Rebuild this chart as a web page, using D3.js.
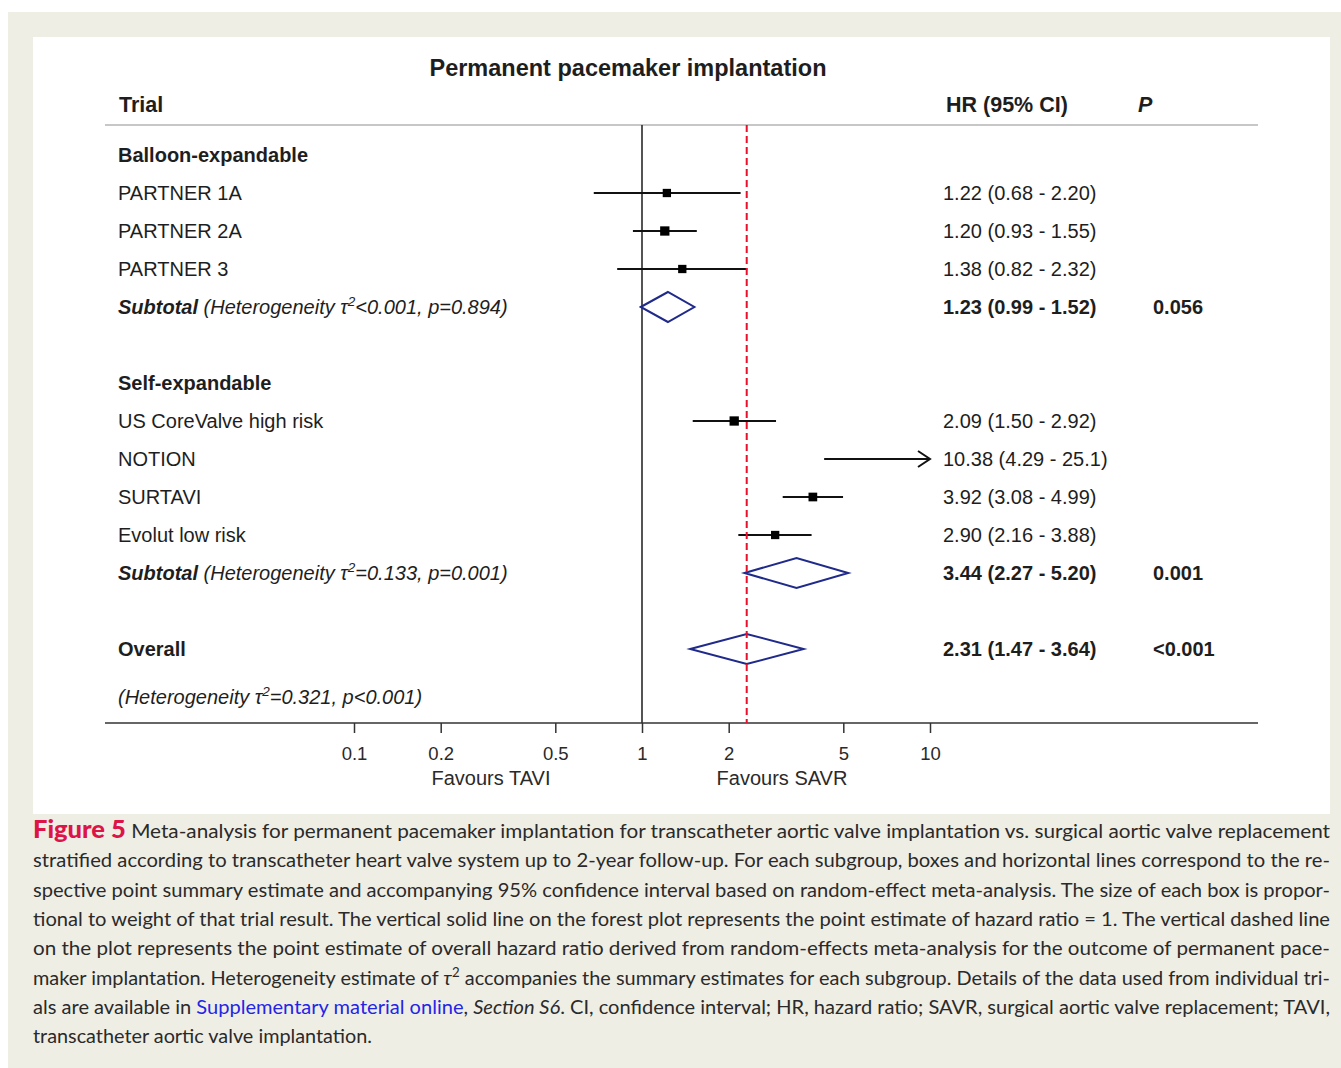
<!DOCTYPE html>
<html>
<head>
<meta charset="utf-8">
<script src="https://cdn.jsdelivr.net/npm/d3@7"></script>
<style>
  body { margin: 0; background: #ffffff; }
  svg text { font-family: "Liberation Sans", Arial, sans-serif; }
  svg text.cap { font-family: Lato, "Open Sans", sans-serif; }
</style>
</head>
<body>
<div id="chart"></div>
<script>

/* --- データ --- */
const groups = ["Balloon-expandable", "Self-expandable"];

const trials     = ["PARTNER 1A", "PARTNER 2A", "PARTNER 3", "US CoreValve high risk", "NOTION", "SURTAVI", "Evolut low risk"];
const trialGroup = ["Balloon-expandable", "Balloon-expandable", "Balloon-expandable", "Self-expandable", "Self-expandable", "Self-expandable", "Self-expandable"];
const trialHR    = [1.22, 1.20, 1.38, 2.09, 10.38, 3.92, 2.90];
const trialLo    = [0.68, 0.93, 0.82, 1.50, 4.29, 3.08, 2.16];
const trialHi    = [2.20, 1.55, 2.32, 2.92, 25.1, 4.99, 3.88];
const trialText  = ["1.22 (0.68 - 2.20)", "1.20 (0.93 - 1.55)", "1.38 (0.82 - 2.32)", "2.09 (1.50 - 2.92)", "10.38 (4.29 - 25.1)", "3.92 (3.08 - 4.99)", "2.90 (2.16 - 3.88)"];
// 重み（箱の大きさから読み取った目安）
const trialWeight = [8.3, 9.3, 8.3, 9.3, 9.0, 8.7, 8.3];

const subHR    = [1.23, 3.44];
const subLo    = [0.99, 2.27];
const subHi    = [1.52, 5.20];
const subText  = ["1.23 (0.99 - 1.52)", "3.44 (2.27 - 5.20)"];
const subP     = ["0.056", "0.001"];
const subTau   = ["<0.001", "=0.133"];
const subPhet  = ["=0.894", "=0.001"];

const overallHR = 2.31, overallLo = 1.47, overallHi = 3.64;
const overallText = "2.31 (1.47 - 3.64)";
const overallP = "<0.001";
const overallTau = "=0.321", overallPhet = "<0.001";

const tickValues = [0.1, 0.2, 0.5, 1, 2, 5, 10];

const captionLines = [
  [["Figure 5", "fig"], [" Meta-analysis for permanent pacemaker implantation for transcatheter aortic valve implantation vs. surgical aortic valve replacement", ""]],
  [["stratified according to transcatheter heart valve system up to 2-year follow-up. For each subgroup, boxes and horizontal lines correspond to the re-", ""]],
  [["spective point summary estimate and accompanying 95% confidence interval based on random-effect meta-analysis. The size of each box is propor-", ""]],
  [["tional to weight of that trial result. The vertical solid line on the forest plot represents the point estimate of hazard ratio = 1. The vertical dashed line", ""]],
  [["on the plot represents the point estimate of overall hazard ratio derived from random-effects meta-analysis for the outcome of permanent pace-", ""]],
  [["maker implantation. Heterogeneity estimate of ", ""], ["τ", "it"], ["2", "sup"], [" accompanies the summary estimates for each subgroup. Details of the data used from individual tri-", ""]],
  [["als are available in ", ""], ["Supplementary material online", "link"], [", ", ""], ["Section S6", "it"], [". CI, confidence interval; HR, hazard ratio; SAVR, surgical aortic valve replacement; TAVI,", ""]],
  [["transcatheter aortic valve implantation.", ""]]
];


/* --- ビューポート --- */
const W = 1341, H = 1068;
const svg = d3.select("#chart").append("svg")
  .attr("width", W).attr("height", H)
  .attr("viewBox", "0 0 " + W + " " + H);

svg.append("rect").attr("x", 8).attr("y", 12).attr("width", W - 8).attr("height", H - 12).attr("fill", "#efeee5");
svg.append("rect").attr("x", 33).attr("y", 37).attr("width", 1297).attr("height", 777).attr("fill", "#ffffff");


/* --- 行の組み立て --- */
let rows = [];
let r = 0;
groups.forEach(function(g, gi) {
  rows.push({type: "group", label: g, row: r++});
  trials.forEach(function(t, i) {
    if (trialGroup[i] === g) {
      rows.push({type: "trial", label: t, hr: trialHR[i], lo: trialLo[i], hi: trialHi[i], text: trialText[i], w: trialWeight[i], row: r++});
    }
  });
  rows.push({type: "sub", hr: subHR[gi], lo: subLo[gi], hi: subHi[gi], text: subText[gi], p: subP[gi], tau: subTau[gi], phet: subPhet[gi], row: r++});
  r++;
});
rows.push({type: "overall", label: "Overall", hr: overallHR, lo: overallLo, hi: overallHi, text: overallText, p: overallP, row: r++});
rows.push({type: "note", tau: overallTau, phet: overallPhet, row: r + 0.26});


/* --- スケール --- */
const x = d3.scaleLog().domain([0.1, 10]).range([354, 930]);
const y = d3.scaleLinear().domain([0, 1]).range([155, 193]);
const boxScale = d3.scaleLinear().domain([0, 10]).range([0, 10]);

const plotTop = 125, plotBottom = 723, plotLeft = 105, plotRight = 1258;
const labelX = 118, hrX = 943, pX = 1153;
const ink = "#1e1e1e";
const fs = 20;


/* --- タイトルと見出し --- */
svg.append("text").attr("x", 628).attr("y", 76).attr("text-anchor", "middle")
  .attr("font-size", 23.5).attr("font-weight", "bold").attr("fill", ink)
  .text("Permanent pacemaker implantation");

svg.append("text").attr("x", 119).attr("y", 112).attr("font-size", 21.5).attr("font-weight", "bold").attr("fill", ink).text("Trial");
svg.append("text").attr("x", 946).attr("y", 112).attr("font-size", 21.5).attr("font-weight", "bold").attr("fill", ink).text("HR (95% CI)");
svg.append("text").attr("x", 1138).attr("y", 112).attr("font-size", 21.5).attr("font-weight", "bold").attr("font-style", "italic").attr("fill", ink).text("P");

svg.append("line").attr("x1", plotLeft).attr("x2", plotRight).attr("y1", plotTop).attr("y2", plotTop)
  .attr("stroke", "#b5b5b5").attr("stroke-width", 1.5);


/* --- 基準線 --- */
svg.append("line").attr("x1", x(1)).attr("x2", x(1)).attr("y1", plotTop).attr("y2", plotBottom)
  .attr("stroke", "#2a2a2a").attr("stroke-width", 1.6);


/* --- 軸 --- */
const axisG = svg.append("g").attr("transform", "translate(0," + plotBottom + ")");
axisG.call(d3.axisBottom(x).tickValues(tickValues).tickFormat(d3.format("~g")).tickSize(10).tickPadding(14).tickSizeOuter(0));
axisG.select(".domain").remove();
axisG.selectAll(".tick line").attr("stroke", "#333").attr("stroke-width", 1.5);
axisG.selectAll(".tick text").attr("font-size", 18.5).attr("fill", "#2a2a2a")
  .style("font-family", "'Liberation Sans', Arial, sans-serif");

svg.append("line").attr("x1", plotLeft).attr("x2", plotRight).attr("y1", plotBottom).attr("y2", plotBottom)
  .attr("stroke", "#333").attr("stroke-width", 1.5);

svg.append("text").attr("x", 491).attr("y", 785).attr("text-anchor", "middle").attr("font-size", 20).attr("fill", "#2a2a2a").text("Favours TAVI");
svg.append("text").attr("x", 782).attr("y", 785).attr("text-anchor", "middle").attr("font-size", 20).attr("fill", "#2a2a2a").text("Favours SAVR");


/* --- 行ラベル --- */
const labelG = svg.append("g");

rows.forEach(function(d) {
  const yy = y(d.row);
  if (d.type === "group" || d.type === "overall") {
    labelG.append("text").attr("x", labelX).attr("y", yy).attr("dy", "0.35em")
      .attr("font-size", fs).attr("font-weight", "bold").attr("fill", ink).text(d.label);
  } else if (d.type === "trial") {
    labelG.append("text").attr("x", labelX).attr("y", yy).attr("dy", "0.35em")
      .attr("font-size", fs).attr("fill", ink).text(d.label);
  } else if (d.type === "sub" || d.type === "note") {
    const t = labelG.append("text").attr("x", labelX).attr("y", yy).attr("dy", "0.35em")
      .attr("font-size", fs).attr("font-style", "italic").attr("fill", ink);
    if (d.type === "sub") {
      t.append("tspan").attr("font-weight", "bold").text("Subtotal");
      t.append("tspan").text(" (Heterogeneity τ");
    } else {
      t.append("tspan").text("(Heterogeneity τ");
    }
    t.append("tspan").attr("font-size", 13.5).attr("dy", -8).text("2");
    t.append("tspan").attr("dy", 8).text(d.tau + ", p" + d.phet + ")");
  }

  if (d.text) {
    labelG.append("text").attr("x", hrX).attr("y", yy).attr("dy", "0.35em")
      .attr("font-size", fs).attr("fill", ink)
      .attr("font-weight", d.type === "trial" ? "normal" : "bold")
      .text(d.text);
  }
  if (d.p) {
    labelG.append("text").attr("x", pX).attr("y", yy).attr("dy", "0.35em")
      .attr("font-size", fs).attr("font-weight", "bold").attr("fill", ink).text(d.p);
  }
});


/* --- 信頼区間と箱 --- */
const xMin = x.domain()[0], xMax = x.domain()[1];
const trialRows = rows.filter(function(d) { return d.type === "trial"; });
const markG = svg.append("g");

markG.selectAll(".ci").data(trialRows).enter().append("line")
  .attr("class", "ci")
  .attr("x1", function(d) { return x(Math.max(d.lo, xMin)); })
  .attr("x2", function(d) { return x(Math.min(d.hi, xMax)); })
  .attr("y1", function(d) { return y(d.row); })
  .attr("y2", function(d) { return y(d.row); })
  .attr("stroke", "#111").attr("stroke-width", 2);

markG.selectAll(".arrow").data(trialRows.filter(function(d) { return d.hi > xMax; })).enter().append("path")
  .attr("class", "arrow")
  .attr("d", function(d) {
    const ax = x(xMax), ay = y(d.row);
    return "M" + (ax - 12) + "," + (ay - 8) + "L" + ax + "," + ay + "L" + (ax - 12) + "," + (ay + 8);
  })
  .attr("fill", "none").attr("stroke", "#111").attr("stroke-width", 2);

markG.selectAll(".box").data(trialRows.filter(function(d) { return d.hr >= xMin && d.hr <= xMax; })).enter().append("rect")
  .attr("class", "box")
  .attr("x", function(d) { return x(d.hr) - boxScale(d.w) / 2; })
  .attr("y", function(d) { return y(d.row) - boxScale(d.w) / 2; })
  .attr("width", function(d) { return boxScale(d.w); })
  .attr("height", function(d) { return boxScale(d.w); })
  .attr("fill", "#000");


/* --- ダイヤモンド --- */
const diamondRows = rows.filter(function(d) { return d.type === "sub" || d.type === "overall"; });
markG.selectAll(".diamond").data(diamondRows).enter().append("path")
  .attr("class", "diamond")
  .attr("d", function(d) {
    const yy = y(d.row), h = 15;
    return "M" + x(d.lo) + "," + yy + "L" + x(d.hr) + "," + (yy - h) + "L" + x(d.hi) + "," + yy + "L" + x(d.hr) + "," + (yy + h) + "Z";
  })
  .attr("fill", "#fff").attr("stroke", "#1f2a8a").attr("stroke-width", 2);


/* --- 全体推定値（破線） --- */
svg.append("line").attr("x1", x(overallHR)).attr("x2", x(overallHR)).attr("y1", plotTop).attr("y2", plotBottom)
  .attr("stroke", "#e8102a").attr("stroke-width", 2).attr("stroke-dasharray", "7,4");


/* --- キャプション --- */
const capWidths = [1297, 1297, 1297, 1297, 1297, 1297, 1297, 339];
captionLines.forEach(function(parts, i) {
  const t = svg.append("text").attr("class", "cap")
    .attr("x", 33).attr("y", 838 + i * 29.3)
    .attr("font-size", 19.5).attr("fill", "#2a2a2a")
    .attr("textLength", capWidths[i]).attr("lengthAdjust", "spacingAndGlyphs");
  let raised = false;
  parts.forEach(function(p) {
    const s = t.append("tspan").text(p[0]);
    if (raised) { s.attr("dy", 8); raised = false; }
    if (p[1] === "fig") s.attr("font-weight", 900).attr("fill", "#dc1448").attr("font-size", 24);
    if (p[1] === "it") s.attr("font-style", "italic");
    if (p[1] === "link") s.attr("fill", "#2424e6");
    if (p[1] === "sup") { s.attr("dy", -8).attr("font-size", 13); raised = true; }
  });
});

</script>
</body>
</html>
